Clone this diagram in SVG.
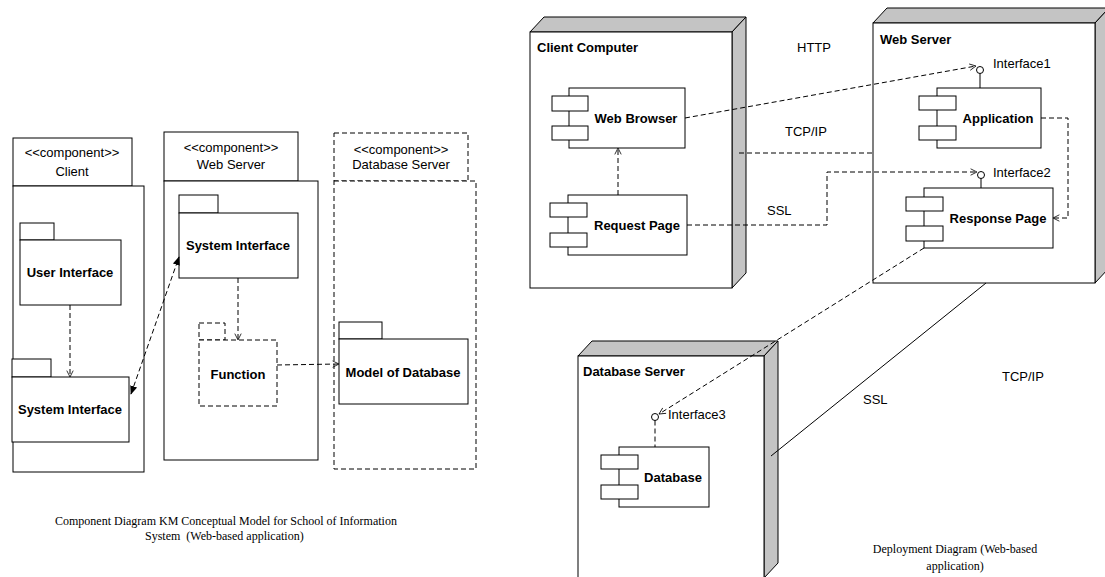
<svg xmlns="http://www.w3.org/2000/svg" width="1105" height="577" viewBox="0 0 1105 577">
  <defs>
    <style>
      .box { fill: #ffffff; stroke: #000000; stroke-width: 1; }
      .dbox { fill: #ffffff; stroke: #000000; stroke-width: 1; stroke-dasharray: 5 3; }
      .side { fill: #c4c4c4; stroke: #000000; stroke-width: 1; }
      .dash { fill: none; stroke: #000000; stroke-width: 1; stroke-dasharray: 5 3; }
      .solid { fill: none; stroke: #000000; stroke-width: 1; }
      .lbl { font-family: "Liberation Sans", Arial, sans-serif; font-size: 13px; fill: #000000; }
      .bold { font-family: "Liberation Sans", Arial, sans-serif; font-size: 13px; font-weight: bold; fill: #000000; }
      .cap { font-family: "Liberation Serif", "Times New Roman", serif; font-size: 12px; fill: #000000; }
      .mid { text-anchor: middle; }
    </style>
    <marker id="open" viewBox="0 0 10 10" refX="9" refY="5" markerWidth="8" markerHeight="8" markerUnits="userSpaceOnUse" orient="auto">
      <path d="M1,1 L9,5 L1,9" fill="none" stroke="#000000" stroke-width="1"/>
    </marker>
    <marker id="filled" viewBox="0 0 10 10" refX="9" refY="5" markerWidth="9" markerHeight="9" markerUnits="userSpaceOnUse" orient="auto-start-reverse">
      <path d="M0,1 L10,5 L0,9 Z" fill="#000000" stroke="none"/>
    </marker>
  </defs>

  <!-- Component diagram -->
  <g id="client">
    <rect class="box" x="13" y="138" width="119" height="48"/>
    <rect class="box" x="13" y="186" width="131" height="286"/>
    <text class="lbl mid" x="72" y="157">&lt;&lt;component&gt;&gt;</text>
    <text class="lbl mid" x="72" y="176">Client</text>
  </g>
  <g id="user-interface">
    <rect class="box" x="20" y="223" width="34" height="17"/>
    <rect class="box" x="20" y="240" width="101" height="65"/>
    <text class="bold mid" x="70" y="277">User Interface</text>
  </g>
  <g id="client-system-interface">
    <rect class="box" x="12" y="359" width="39" height="18"/>
    <rect class="box" x="12" y="377" width="117" height="65"/>
    <text class="bold mid" x="70" y="414">System Interface</text>
  </g>

  <g id="web-server-component">
    <rect class="box" x="164" y="132" width="134" height="49"/>
    <rect class="box" x="164" y="181" width="154" height="279"/>
    <text class="lbl mid" x="231" y="152">&lt;&lt;component&gt;&gt;</text>
    <text class="lbl mid" x="231" y="169">Web Server</text>
  </g>
  <g id="server-system-interface">
    <rect class="box" x="179" y="195" width="39" height="18"/>
    <rect class="box" x="179" y="213" width="119" height="65"/>
    <text class="bold mid" x="238" y="250">System Interface</text>
  </g>
  <g id="function">
    <rect class="dbox" x="199" y="323" width="26" height="17"/>
    <rect class="dbox" x="199" y="340" width="78" height="66"/>
    <text class="bold mid" x="238" y="379">Function</text>
  </g>

  <g id="database-server-component">
    <rect class="dbox" x="334" y="133" width="134" height="48"/>
    <rect class="dbox" x="334" y="181" width="142" height="288"/>
    <text class="lbl mid" x="401" y="154">&lt;&lt;component&gt;&gt;</text>
    <text class="lbl mid" x="401" y="169">Database Server</text>
  </g>
  <g id="model-of-database">
    <rect class="box" x="339" y="322" width="43" height="17"/>
    <rect class="box" x="339" y="339" width="129" height="65"/>
    <text class="bold mid" x="403" y="377">Model of Database</text>
  </g>

  <g id="component-connectors">
    <line class="dash" x1="70" y1="305" x2="70" y2="377" marker-end="url(#open)"/>
    <line class="dash" x1="131" y1="394" x2="179" y2="257" marker-start="url(#filled)" marker-end="url(#filled)"/>
    <line class="dash" x1="238" y1="278" x2="238" y2="340" marker-end="url(#open)"/>
    <line class="dash" x1="277" y1="365" x2="339" y2="364" marker-end="url(#open)"/>
  </g>

  <text class="cap" x="55" y="525">Component Diagram KM Conceptual Model for School of Information</text>
  <text class="cap" x="145" y="540" xml:space="preserve">System  (Web-based application)</text>

  <!-- Deployment diagram -->
  <g id="client-computer">
    <polygon class="side" points="530,32 544,17 746,17 732,32"/>
    <polygon class="side" points="732,32 746,17 746,273 732,288"/>
    <rect class="box" x="530" y="32" width="202" height="256"/>
    <text class="bold" x="537" y="52">Client Computer</text>
  </g>
  <g id="web-browser">
    <rect class="box" x="569" y="88" width="116" height="60"/>
    <rect class="box" x="552" y="96" width="36" height="15"/>
    <rect class="box" x="552" y="126" width="36" height="14"/>
    <text class="bold mid" x="636" y="123">Web Browser</text>
  </g>
  <g id="request-page">
    <rect class="box" x="568" y="195" width="119" height="60"/>
    <rect class="box" x="550" y="203" width="37" height="14"/>
    <rect class="box" x="550" y="233" width="37" height="14"/>
    <text class="bold mid" x="637" y="230">Request Page</text>
  </g>

  <g id="web-server-node">
    <polygon class="side" points="873,23 887,8 1109,8 1095,23"/>
    <polygon class="side" points="1095,23 1109,8 1109,268 1095,283"/>
    <rect class="box" x="873" y="23" width="222" height="260"/>
    <text class="bold" x="880" y="44">Web Server</text>
  </g>
  <g id="application">
    <rect class="box" x="937" y="88" width="104" height="60"/>
    <rect class="box" x="919" y="96" width="37" height="14"/>
    <rect class="box" x="919" y="126" width="37" height="14"/>
    <text class="bold mid" x="998" y="123">Application</text>
  </g>
  <g id="response-page">
    <rect class="box" x="924" y="188" width="129" height="60"/>
    <rect class="box" x="906" y="197" width="37" height="14"/>
    <rect class="box" x="906" y="226" width="37" height="15"/>
    <text class="bold mid" x="998" y="223">Response Page</text>
  </g>
  <g id="interface1">
    <circle class="solid" cx="980" cy="70" r="3.5"/>
    <line class="solid" x1="980" y1="73.5" x2="980" y2="88"/>
    <text class="lbl" x="993" y="68">Interface1</text>
  </g>
  <g id="interface2">
    <circle class="solid" cx="981" cy="175" r="3.5"/>
    <line class="solid" x1="981" y1="178.5" x2="981" y2="188"/>
    <text class="lbl" x="993" y="177">Interface2</text>
  </g>

  <g id="database-server-node">
    <polygon class="side" points="578,356 592,341 778,341 764,356"/>
    <polygon class="side" points="764,356 778,341 778,563 764,578"/>
    <rect class="box" x="578" y="356" width="186" height="222"/>
    <text class="bold" x="583" y="376">Database Server</text>
  </g>
  <g id="database">
    <rect class="box" x="619" y="447" width="90" height="60"/>
    <rect class="box" x="601" y="455" width="37" height="14"/>
    <rect class="box" x="601" y="485" width="37" height="14"/>
    <text class="bold mid" x="673" y="482">Database</text>
  </g>
  <g id="interface3">
    <circle class="solid" cx="655" cy="417" r="3.5"/>
    <line class="dash" x1="655" y1="420.5" x2="655" y2="447"/>
    <text class="lbl" x="668" y="419">Interface3</text>
  </g>

  <g id="deployment-connectors">
    <line class="dash" x1="618" y1="195" x2="618" y2="148" marker-end="url(#open)"/>
    <line class="dash" x1="685" y1="118" x2="976" y2="66" marker-end="url(#open)"/>
    <line class="dash" x1="739" y1="153" x2="873" y2="153"/>
    <polyline class="dash" points="687,225 827,225 827,172 977,172" marker-end="url(#open)"/>
    <polyline class="dash" points="1041,118 1068,118 1068,218 1053,218" marker-end="url(#open)"/>
    <line class="dash" x1="924" y1="248" x2="659" y2="414" marker-end="url(#open)"/>
    <line class="solid" x1="986" y1="283" x2="771" y2="456"/>
  </g>

  <text class="lbl" x="797" y="52">HTTP</text>
  <text class="lbl" x="785" y="136">TCP/IP</text>
  <text class="lbl" x="767" y="215">SSL</text>
  <text class="lbl" x="863" y="404">SSL</text>
  <text class="lbl" x="1002" y="381">TCP/IP</text>

  <text class="cap mid" x="955" y="553">Deployment Diagram (Web-based</text>
  <text class="cap mid" x="955" y="570">application)</text>
</svg>
